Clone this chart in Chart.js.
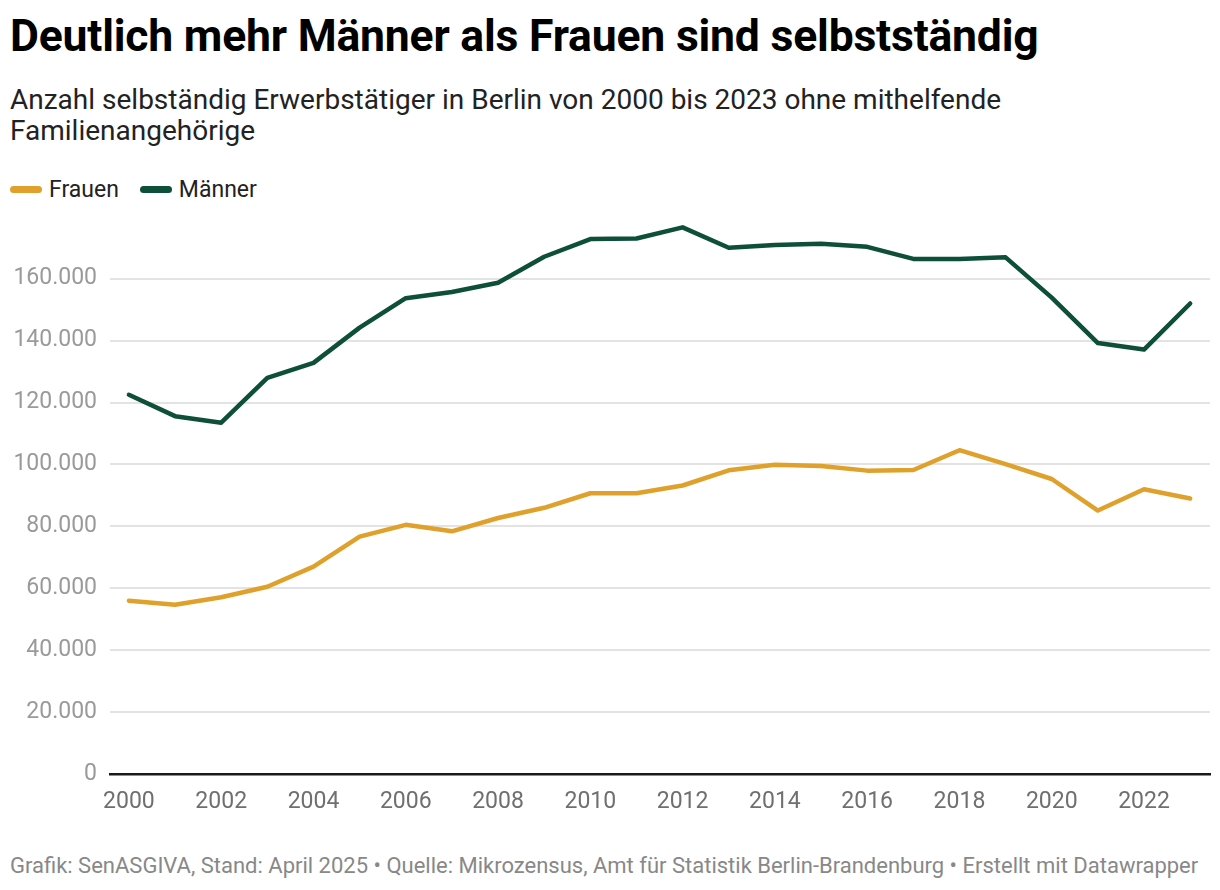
<!DOCTYPE html>
<html lang="de">
<head>
<meta charset="utf-8">
<script src="https://cdn.jsdelivr.net/npm/chart.js@4.4.1/dist/chart.umd.min.js"></script>
<style>
  body { margin: 0; background: #fff; font-family: Roboto, "Noto Sans", sans-serif; }
  #wrap { position: relative; width: 1220px; height: 890px; overflow: hidden; }
  h1 { position: absolute; left: 10px; top: 14px; margin: 0; font-size: 44.5px; line-height: 1; font-weight: 700; color: #000; letter-spacing: -0.2px; white-space: nowrap; }
  .sub { position: absolute; left: 10px; top: 84px; margin: 0; font-size: 28px; line-height: 31px; color: #222; white-space: nowrap; }
  .legend { position: absolute; left: 10px; top: 176px; font-size: 23px; line-height: 27px; color: #222; display: flex; align-items: center; }
  .legend span.sw { display: inline-block; width: 32px; height: 7px; border-radius: 4px; margin-right: 7px; }
  .legend span.item { display: flex; align-items: center; margin-right: 21px; }
  .foot { position: absolute; left: 10px; top: 853px; font-size: 22px; line-height: 26px; color: #888; white-space: nowrap; }
  #box { position: absolute; left: 0; top: 190px; width: 1220px; height: 630px; }
</style>
</head>
<body>
<div id="wrap">
  <h1>Deutlich mehr Männer als Frauen sind selbstständig</h1>
  <p class="sub">Anzahl selbständig Erwerbstätiger in Berlin von 2000 bis 2023 ohne mithelfende<br>Familienangehörige</p>
  <div class="legend">
    <span class="item"><span class="sw" style="background:#dfa12c"></span>Frauen</span>
    <span class="item"><span class="sw" style="background:#0e4f3a"></span>Männer</span>
  </div>
  <div id="box"><canvas id="myChart"></canvas></div>
  <div class="foot">Grafik: SenASGIVA, Stand: April 2025 • Quelle: Mikrozensus, Amt für Statistik Berlin-Brandenburg • Erstellt mit Datawrapper</div>
</div>
<script>
const years = [2000, 2001, 2002, 2003, 2004, 2005, 2006, 2007, 2008, 2009, 2010, 2011,
               2012, 2013, 2014, 2015, 2016, 2017, 2018, 2019, 2020, 2021, 2022, 2023];
const frauen = [56000, 54700, 57100, 60500, 67000, 76700, 80500, 78400, 82700, 86000, 90700, 90700,
                93200, 98100, 99900, 99500, 98000, 98200, 104600, 100100, 95300, 85100, 92000, 89000];
const maenner = [122500, 115600, 113500, 128000, 132800, 144200, 153700, 155700, 158700, 167100, 172800, 173000,
                 176600, 170000, 170900, 171300, 170300, 166400, 166400, 166900, 153900, 139200, 137100, 152000];
const xTicks = [2000, 2002, 2004, 2006, 2008, 2010, 2012, 2014, 2016, 2018, 2020, 2022];
const yTicks = [0, 20000, 40000, 60000, 80000, 100000, 120000, 140000, 160000];

function fmt(v) {
    return String(v).replace(/\B(?=(\d{3})+(?!\d))/g, '.');
}

const data = {
    datasets: [
      {
        label: "Frauen",
        data: years.map((y, i) => ({ x: y, y: frauen[i] })),
        borderColor: "#dfa12c",
        borderWidth: 4.5,
        pointRadius: 0,
        borderCapStyle: "round",
        borderJoinStyle: "round",
      },
      {
        label: "Männer",
        data: years.map((y, i) => ({ x: y, y: maenner[i] })),
        borderColor: "#0e4f3a",
        borderWidth: 4.5,
        pointRadius: 0,
        borderCapStyle: "round",
        borderJoinStyle: "round",
      },
    ],
};

const config = {
    type: 'line',
    data: data,
    options: {
        responsive: true,
        maintainAspectRatio: false,
        animation: false,
        layout: { padding: { top: 3, right: 10, left: 0, bottom: 0 } },
        plugins: {
          legend: { display: false },
          tooltip: { enabled: false },
        },
        scales: {
          x: {
            type: 'linear',
            min: 1999.59,
            max: 2023.43,
            afterBuildTicks: (s) => { s.ticks = xTicks.map(v => ({ value: v })); },
            afterFit: (s) => { s.height = 46; },
            grid: { display: false, drawTicks: false },
            border: { display: true, color: "#1a1a1a", width: 2.5 },
            ticks: {
              padding: 14,
              color: "#6f6f6f",
              font: { size: 23, family: "Roboto" },
              callback: (v) => String(v),
            },
          },
          y: {
            min: 0,
            max: 180000,
            afterBuildTicks: (s) => { s.ticks = yTicks.map(v => ({ value: v })); },
            afterFit: (s) => { s.width = 110; },
            grid: {
              color: (c) => c.tick && c.tick.value === 0 ? "rgba(0,0,0,0)" : "#e3e3e3",
              lineWidth: 2,
              drawTicks: false,
            },
            border: { display: false },
            ticks: {
              padding: 13,
              color: "#9a9a9a",
              font: { size: 23, family: "Roboto" },
              callback: (v) => fmt(v),
            },
          },
        },
    },
};

const myChart = new Chart(document.getElementById('myChart'), config);
</script>
</body>
</html>
